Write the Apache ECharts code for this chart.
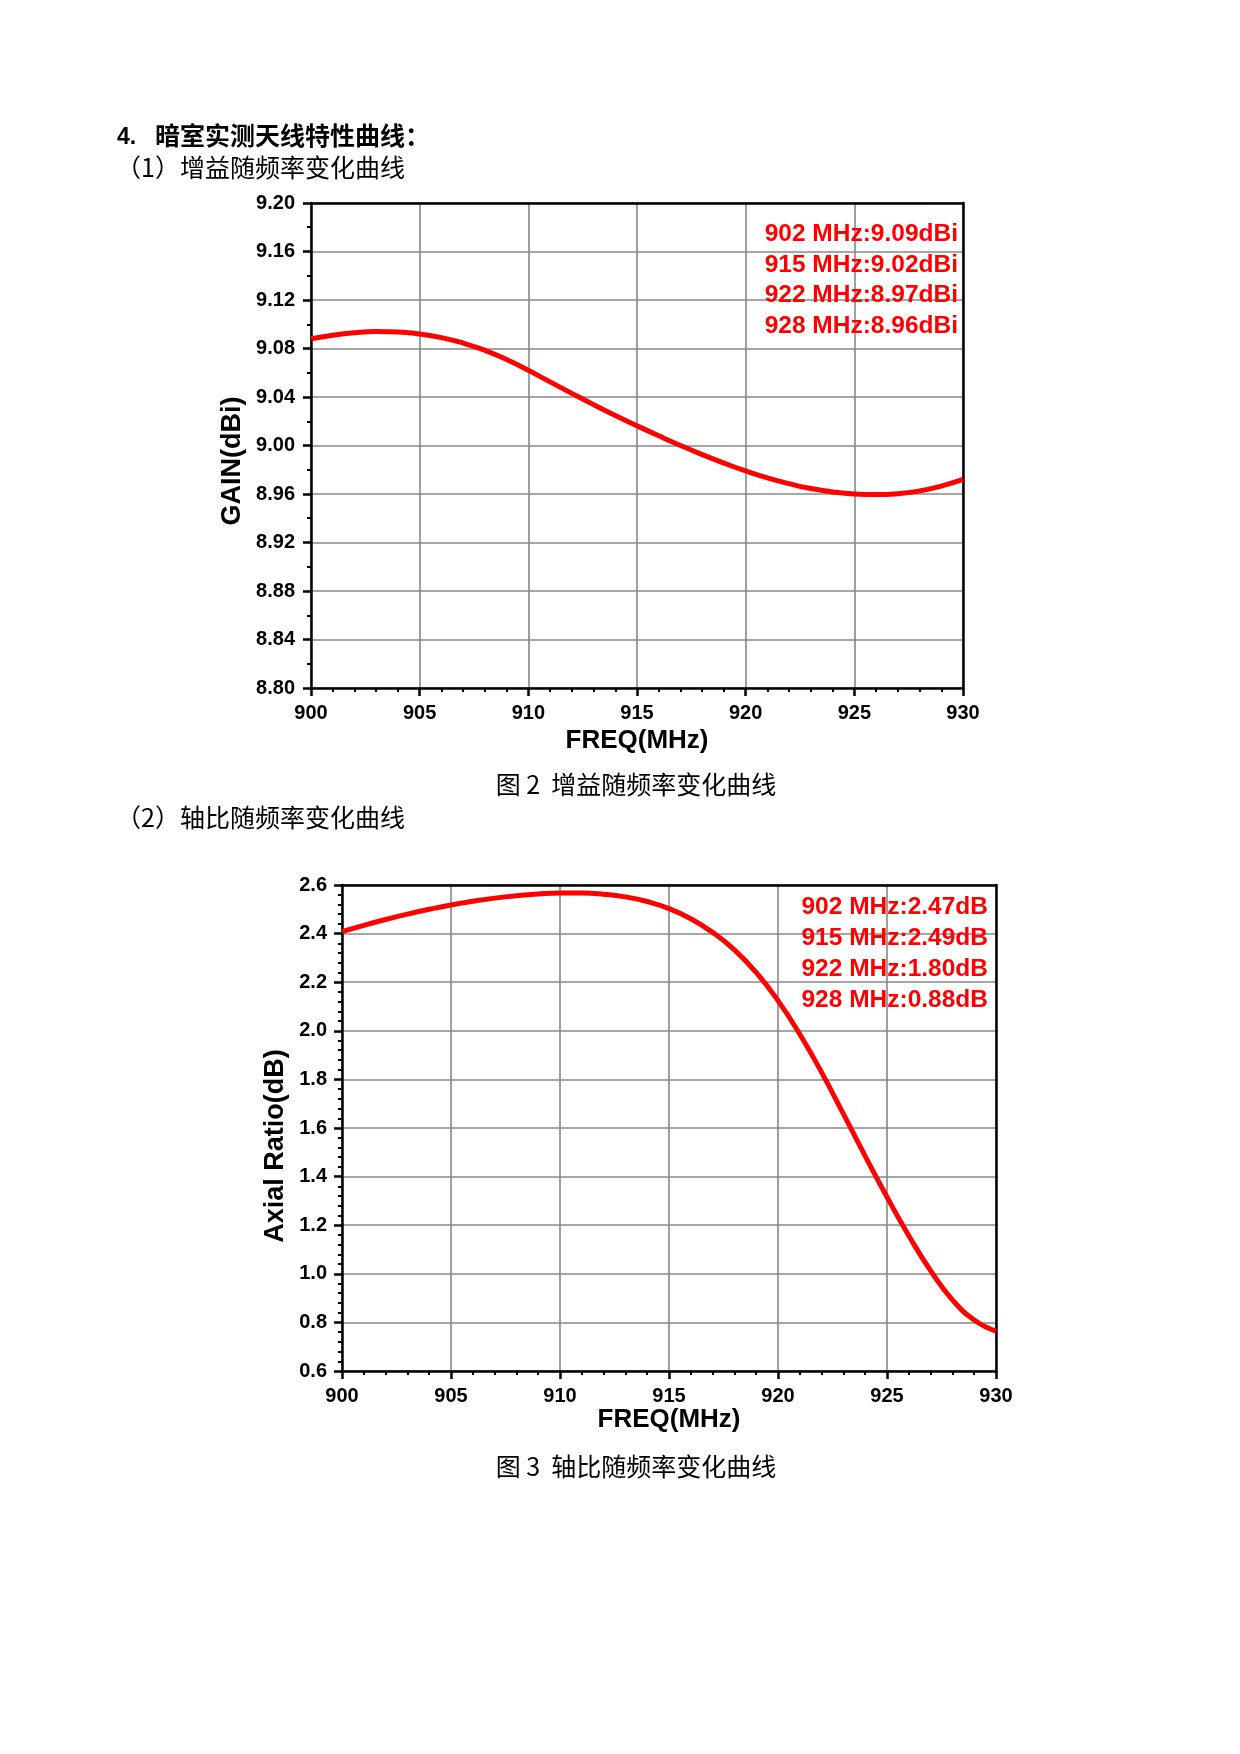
<!DOCTYPE html>
<html><head><meta charset="utf-8">
<script src="https://cdn.jsdelivr.net/npm/echarts@6/dist/echarts.min.js"></script>
<style>html,body{margin:0;padding:0;background:#fff}#c{width:1240px;height:1754px}</style>
</head><body><div id="c"></div>
<script>
const freqs = [900,901,902,903,904,905,906,907,908,909,910,911,912,913,914,915,916,917,918,919,920,921,922,923,924,925,926,927,928,929,930];
const gainValues = [9.088,9.091,9.093,9.094,9.0937,9.092,9.089,9.0845,9.0785,9.071,9.062,9.0525,9.043,9.0337,9.0248,9.0163,9.008,9.000,8.9925,8.9855,8.979,8.9733,8.9685,8.9645,8.9617,8.960,8.9595,8.9602,8.9625,8.9665,8.972];
const arValues = [2.408,2.434,2.458,2.480,2.500,2.518,2.533,2.546,2.556,2.563,2.567,2.567,2.562,2.551,2.532,2.503,2.461,2.405,2.333,2.240,2.124,1.986,1.829,1.658,1.484,1.316,1.157,1.013,0.893,0.810,0.764];
const gainNotes = ['902 MHz:9.09dBi','915 MHz:9.02dBi','922 MHz:8.97dBi','928 MHz:8.96dBi'];
const arNotes = ['902 MHz:2.47dB','915 MHz:2.49dB','922 MHz:1.80dB','928 MHz:0.88dB'];
const texts = {
  num: '4.',
  heading: '暗室实测天线特性曲线：',
  sub1: '（1）增益随频率变化曲线',
  cap1: '图 2  增益随频率变化曲线',
  sub2: '（2）轴比随频率变化曲线',
  cap2: '图 3  轴比随频率变化曲线',
  xName: 'FREQ(MHz)', y1Name: 'GAIN(dBi)', y2Name: 'Axial Ratio(dB)'
};

const LAT = '"Liberation Sans", Arial, sans-serif';
const CJK = '"Noto Sans CJK SC", sans-serif';

function xAxisCfg(gi){
  return {
    type:'value', gridIndex:gi, min:900, max:930, interval:5, z:3,
    axisLine:{show:true,onZero:false,lineStyle:{color:'#000',width:2.5}},
    axisTick:{show:true,inside:false,length:8,lineStyle:{color:'#000',width:2.5}},
    minorTick:{show:true,splitNumber:5,length:4,lineStyle:{color:'#000',width:2}},
    splitLine:{show:true,lineStyle:{color:'#888',width:1.6}},
    axisLabel:{color:'#000',fontFamily:LAT,fontWeight:'bold',fontSize:20,margin:15,showMinLabel:true,showMaxLabel:true}
  };
}
function frameX(gi){
  return {type:'value',gridIndex:gi,min:900,max:930,position:'top',z:4,
    axisLine:{show:true,onZero:false,lineStyle:{color:'#000',width:2.5}},
    axisTick:{show:false},axisLabel:{show:false},splitLine:{show:false}};
}
function frameY(gi,min,max){
  return {type:'value',gridIndex:gi,min:min,max:max,position:'right',z:4,
    axisLine:{show:true,onZero:false,lineStyle:{color:'#000',width:2.5}},
    axisTick:{show:false},axisLabel:{show:false},splitLine:{show:false}};
}
function yAxisCfg(gi,min,max,interval,minorSplit,dec,margin){
  return {
    type:'value', gridIndex:gi, min:min, max:max, interval:interval, z:3,
    axisLine:{show:true,onZero:false,lineStyle:{color:'#000',width:2.5}},
    axisTick:{show:true,inside:false,length:8,lineStyle:{color:'#000',width:2.5}},
    minorTick:{show:true,splitNumber:minorSplit,length:4,lineStyle:{color:'#000',width:2}},
    splitLine:{show:true,lineStyle:{color:'#888',width:1.6}},
    axisLabel:{color:'#000',fontFamily:LAT,fontWeight:'bold',fontSize:20,margin:margin,showMinLabel:true,showMaxLabel:true,
      formatter:v=>Number(v).toFixed(dec)}
  };
}

const graphics = [];
function txt(x,y,t,o){
  graphics.push({type:'text',x:x,y:y,rotation:o.rot||0,z:10,style:Object.assign({text:t,fill:'#000',textVerticalAlign:'middle'},o.style)});
}
txt(117,138,texts.num,{style:{font:'bold 23px '+LAT,textAlign:'left'}});
txt(155,135,texts.heading,{style:{font:'bold 25px '+CJK,textAlign:'left'}});
txt(116,167,texts.sub1,{style:{font:'25px '+CJK,textAlign:'left'}});
txt(636,784,texts.cap1,{style:{font:'25px '+CJK,textAlign:'center'}});
txt(116,817,texts.sub2,{style:{font:'25px '+CJK,textAlign:'left'}});
txt(636,1466,texts.cap2,{style:{font:'25px '+CJK,textAlign:'center'}});
txt(637,741,texts.xName,{style:{font:'bold 26px '+LAT,textAlign:'center'}});
txt(669,1420,texts.xName,{style:{font:'bold 26px '+LAT,textAlign:'center'}});
txt(233,461,texts.y1Name,{rot:Math.PI/2,style:{font:'bold 27px '+LAT,textAlign:'center'}});
txt(276,1146,texts.y2Name,{rot:Math.PI/2,style:{font:'bold 27px '+LAT,textAlign:'center'}});
gainNotes.forEach((t,i)=>txt(958,234.5+i*30.5,t,{style:{font:'bold 24.5px '+LAT,textAlign:'right',fill:'#ff0000'}}));
arNotes.forEach((t,i)=>txt(988,907.5+i*30.8,t,{style:{font:'bold 24.5px '+LAT,textAlign:'right',fill:'#ff0000'}}));

const chart = echarts.init(document.getElementById('c'),null,{renderer:'canvas'});
chart.setOption({
  backgroundColor:'#fff',
  animation:false,
  grid:[
    {left:311,top:203,width:652,height:485,show:false},
    {left:342,top:885,width:654,height:486,show:false}
  ],
  xAxis:[xAxisCfg(0),xAxisCfg(1),frameX(0),frameX(1)],
  yAxis:[yAxisCfg(0,8.8,9.2,0.04,2,2,16),yAxisCfg(1,0.6,2.6,0.2,5,1,15),frameY(0,8.8,9.2),frameY(1,0.6,2.6)],
  series:[
    {type:'line',xAxisIndex:0,yAxisIndex:0,data:freqs.map((f,i)=>[f,gainValues[i]]),smooth:true,showSymbol:false,
      lineStyle:{color:'#ff0000',width:5},z:5},
    {type:'line',xAxisIndex:1,yAxisIndex:1,data:freqs.map((f,i)=>[f,arValues[i]]),smooth:true,showSymbol:false,
      lineStyle:{color:'#ff0000',width:5},z:5}
  ],
  graphic:graphics
});
</script></body></html>
